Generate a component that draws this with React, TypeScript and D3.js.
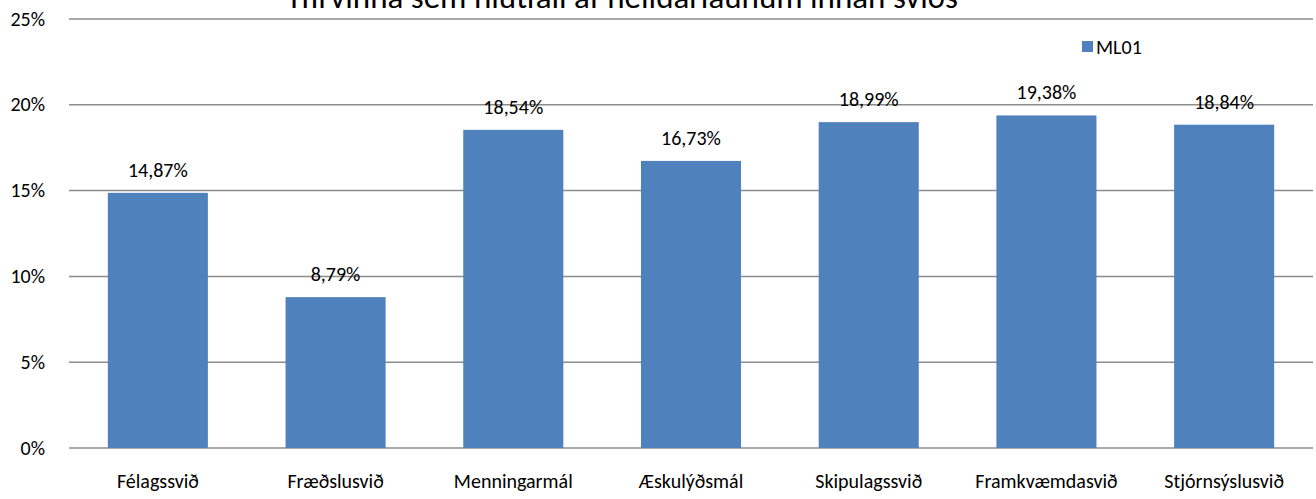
import React, { useEffect, useRef } from "react"
import * as d3 from "d3"

const categories = ["Félagssvið", "Fræðslusvið", "Menningarmál", "Æskulýðsmál", "Skipulagssvið", "Framkvæmdasvið", "Stjórnsýslusvið"]
const values = [14.87, 8.79, 18.54, 16.73, 18.99, 19.38, 18.84]
const yTicks = [0, 5, 10, 15, 20, 25]
const seriesName = "ML01"
const title = "Yfirvinna sem hlutfall af heildarlaunum innan sviðs"

const W = 1316
const H = 499
const FONT = "Carlito, Lato, 'Open Sans', sans-serif"
const FS = 20

export default function App() {
  const ref = useRef<SVGSVGElement>(null)

  useEffect(() => {
    const svg = d3.select(ref.current)
    svg.selectAll("*").remove()

    const x = d3.scaleBand().domain(categories).range([69, 1313]).paddingInner(0.437).paddingOuter(0.2185)
    const y = d3.scaleLinear().domain([0, 25]).range([448, 19])

    // gridlines
    svg
      .append("g")
      .selectAll("line")
      .data(yTicks)
      .join("line")
      .attr("x1", 69)
      .attr("x2", 1313)
      .attr("y1", (d) => y(d))
      .attr("y2", (d) => y(d))
      .attr("stroke", "#8c8c8c")
      .attr("stroke-width", 1.5)

    // y labels
    svg
      .append("g")
      .selectAll("text")
      .data(yTicks)
      .join("text")
      .attr("x", 45)
      .attr("y", (d) => y(d) + 6.5)
      .attr("text-anchor", "end")
      .attr("font-family", FONT)
      .attr("font-size", FS)
      .text((d) => d + "%")

    // bars
    svg
      .append("g")
      .selectAll("rect")
      .data(values)
      .join("rect")
      .attr("x", (d, i) => x(categories[i])!)
      .attr("width", x.bandwidth())
      .attr("y", (d) => y(d))
      .attr("height", (d) => y(0) - y(d))
      .attr("fill", "#4f81bd")

    // value labels
    svg
      .append("g")
      .selectAll("text")
      .data(values)
      .join("text")
      .attr("x", (d, i) => x(categories[i])! + x.bandwidth() / 2)
      .attr("y", (d) => y(d) - 16)
      .attr("text-anchor", "middle")
      .attr("font-family", FONT)
      .attr("font-size", FS)
      .text((d) => d.toFixed(2).replace(".", ",") + "%")

    // category labels
    svg
      .append("g")
      .selectAll("text")
      .data(categories)
      .join("text")
      .attr("x", (d) => x(d)! + x.bandwidth() / 2)
      .attr("y", 488)
      .attr("text-anchor", "middle")
      .attr("font-family", FONT)
      .attr("font-size", FS)
      .text((d) => d)

    // legend
    svg.append("rect").attr("x", 1082).attr("y", 41).attr("width", 11).attr("height", 11).attr("fill", "#4f81bd")
    svg
      .append("text")
      .attr("x", 1096)
      .attr("y", 54)
      .attr("font-family", FONT)
      .attr("font-size", FS)
      .text(seriesName)

    // title (clipped at top edge, as in the source image)
    svg
      .append("text")
      .attr("x", 622)
      .attr("y", 8)
      .attr("text-anchor", "middle")
      .attr("font-family", FONT)
      .attr("font-size", 33)
      .text(title)
  }, [])

  return (
    <svg
      ref={ref}
      width={W}
      height={H}
      style={{ position: "absolute", left: 0, top: 0, background: "#fff" }}
    />
  )
}
